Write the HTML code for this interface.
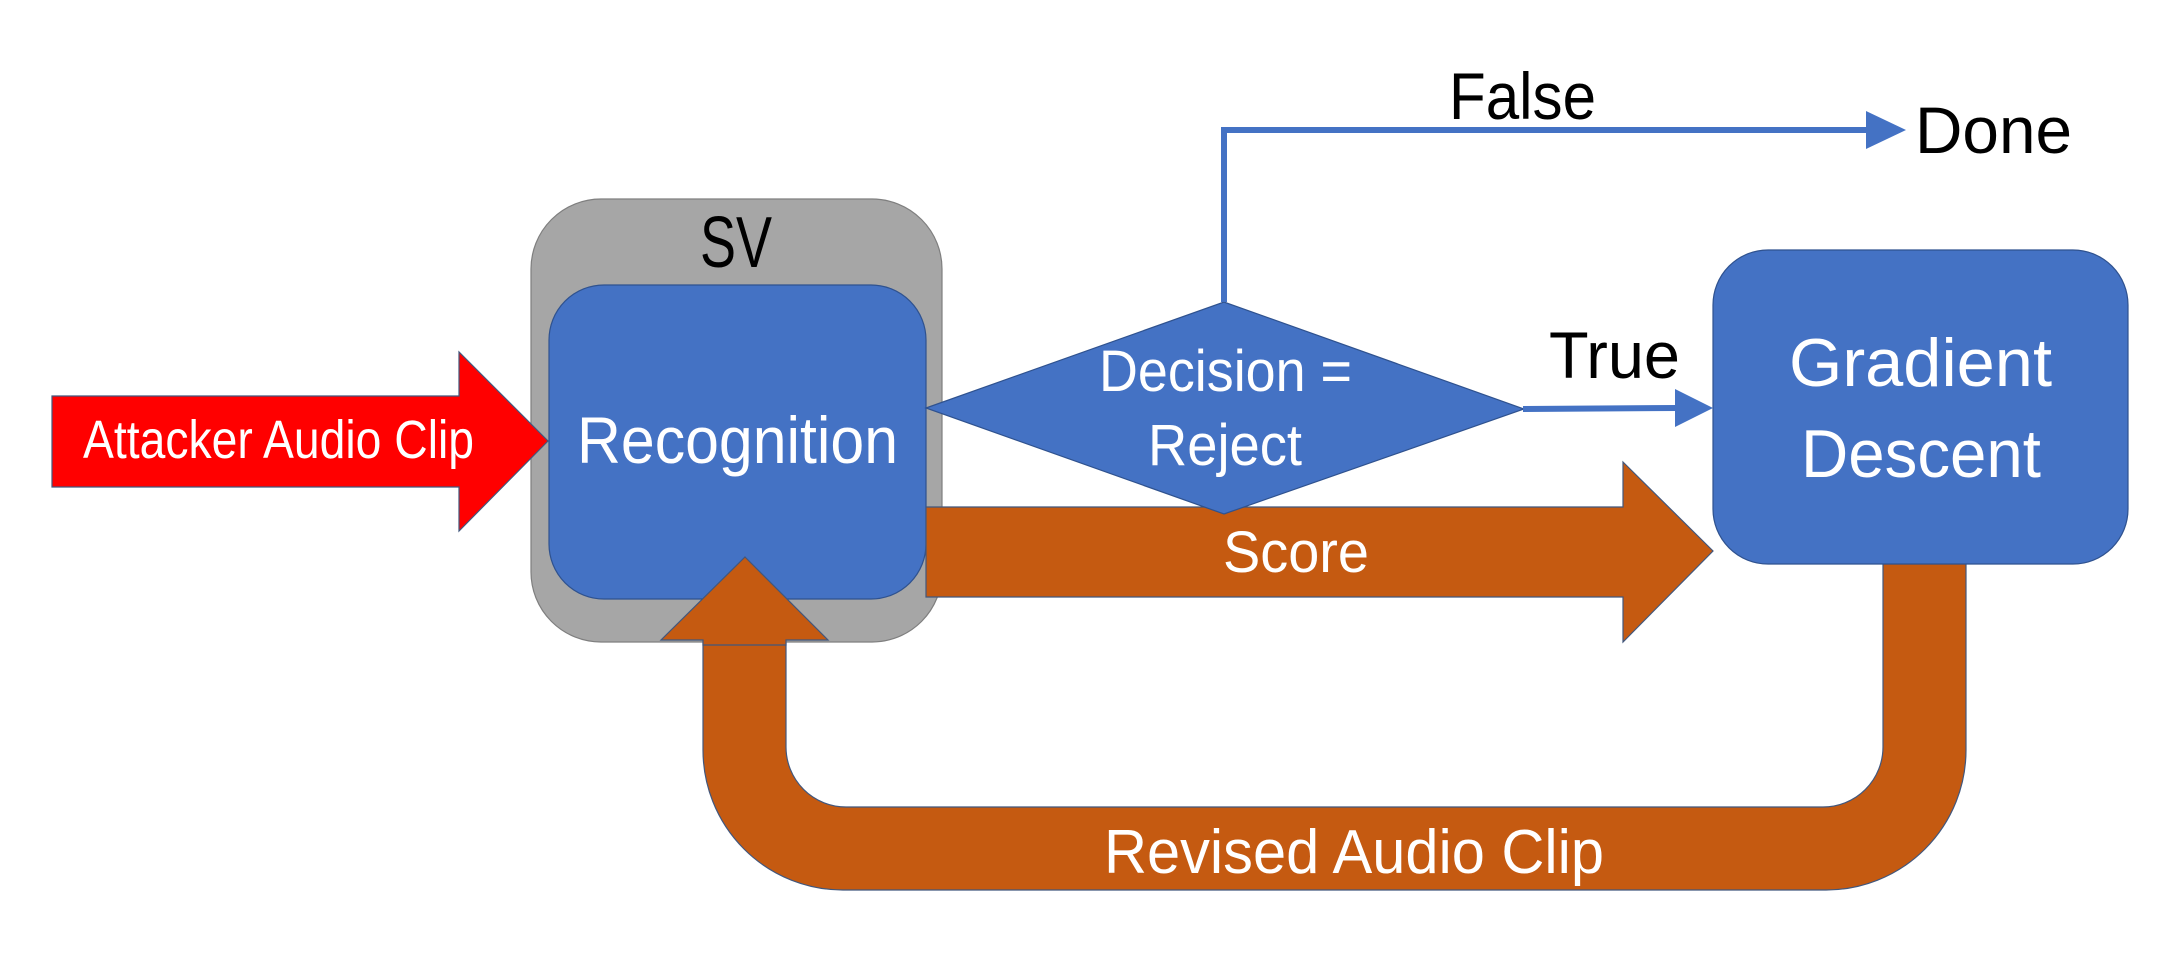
<!DOCTYPE html>
<html><head><meta charset="utf-8"><style>html,body{margin:0;padding:0;background:#fff}svg{display:block}</style></head>
<body>
<svg width="2183" height="968" viewBox="0 0 2183 968" xmlns="http://www.w3.org/2000/svg" font-family="'Liberation Sans', sans-serif">
<rect width="2183" height="968" fill="#fff"/>
<path d="M703 640 L703 750 A140 140 0 0 0 843 890 L1826 890 A140 140 0 0 0 1966 750 L1966 560 L1883 560 L1883 747 A60 60 0 0 1 1823 807 L846 807 A60 60 0 0 1 786 747 L786 640 Z" fill="#C55A11" stroke="#41577d" stroke-width="1.2"/>
<rect x="531" y="199" width="411" height="443" rx="70" fill="#A6A6A6" stroke="#7f7f7f" stroke-width="1.2"/>
<rect x="549" y="285" width="377" height="314" rx="55" fill="#4472C4" stroke="#2F528F" stroke-width="1.2"/>
<polygon points="745,557 828,640 786,640 786,645 703,645 703,640 661,640" fill="#C55A11" stroke="#41577d" stroke-width="1.2"/>
<polygon points="52,396 459,396 459,352 548,441 459,531 459,487 52,487" fill="#FF0000" stroke="#41577d" stroke-width="1.2"/>
<polygon points="926,507 1623,507 1623,462 1713,551 1623,642 1623,597 926,597" fill="#C55A11" stroke="#41577d" stroke-width="1.2"/>
<polygon points="926,408 1224,302 1524,409 1224,514" fill="#4472C4" stroke="#2F528F" stroke-width="1.2"/>
<rect x="1713" y="250" width="415" height="314" rx="55" fill="#4472C4" stroke="#2F528F" stroke-width="1.2"/>
<polyline points="1224,302 1224,130 1870,130" fill="none" stroke="#4472C4" stroke-width="6"/>
<polygon points="1866,111 1906,130 1866,149" fill="#4472C4"/>
<line x1="1523" y1="409" x2="1678" y2="408" stroke="#4472C4" stroke-width="6"/>
<polygon points="1675,389 1713,408 1675,427" fill="#4472C4"/>
<g fill="#fff">
<text x="83" y="458" font-size="54" textLength="391" lengthAdjust="spacingAndGlyphs">Attacker Audio Clip</text>
<text x="577" y="463" font-size="66" textLength="321" lengthAdjust="spacingAndGlyphs">Recognition</text>
<text x="1099" y="391" font-size="58" textLength="253" lengthAdjust="spacingAndGlyphs">Decision =</text>
<text x="1148" y="465" font-size="58" textLength="154" lengthAdjust="spacingAndGlyphs">Reject</text>
<text x="1789" y="386" font-size="68" textLength="263" lengthAdjust="spacingAndGlyphs">Gradient</text>
<text x="1801" y="477" font-size="68" textLength="240" lengthAdjust="spacingAndGlyphs">Descent</text>
<text x="1223" y="572" font-size="58" textLength="146" lengthAdjust="spacingAndGlyphs">Score</text>
<text x="1104" y="873" font-size="62" textLength="500" lengthAdjust="spacingAndGlyphs">Revised Audio Clip</text>
</g>
<g fill="#000">
<text x="700" y="267" font-size="72" textLength="72" lengthAdjust="spacingAndGlyphs">SV</text>
<text x="1449" y="119" font-size="66" textLength="147" lengthAdjust="spacingAndGlyphs">False</text>
<text x="1915" y="153" font-size="66" textLength="157" lengthAdjust="spacingAndGlyphs">Done</text>
<text x="1549" y="378" font-size="66" textLength="131" lengthAdjust="spacingAndGlyphs">True</text>
</g>
</svg>
</body></html>
